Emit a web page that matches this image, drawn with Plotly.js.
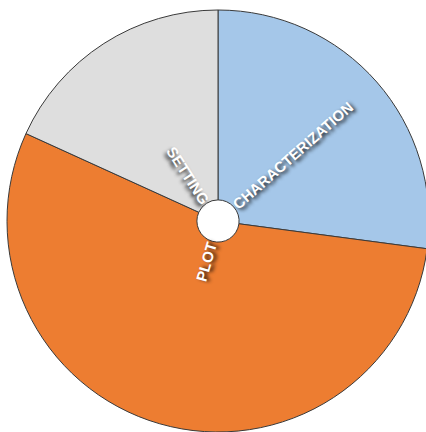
<!DOCTYPE html>
<html>
<head>
<meta charset="utf-8">
<script src="https://cdn.plot.ly/plotly-3.0.1.min.js"></script>
<style>
html, body { margin: 0; padding: 0; overflow: hidden; background: #fff; }
#chart { width: 429px; height: 432px; }
</style>
</head>
<body>
<div id="chart"></div>
<script>
const categories = ["CHARACTERIZATION", "PLOT", "SETTING"];
const values = [27.1, 54.7, 18.2];
const colors = ["#a5c7e9", "#ed7d31", "#dedede"];

const W = 429, H = 432;
const margin = { l: 7, r: 0, t: 10, b: 0 };
const plotW = W - margin.l - margin.r, plotH = H - margin.t - margin.b;
const holeFrac = 0.1;
const labelStart = 0.1;
const fontSize = 15;
const boxH = fontSize * 1.25;

const trace = {
  type: "pie",
  labels: categories,
  values: values,
  textinfo: "none",
  sort: false,
  direction: "clockwise",
  rotation: 0,
  hole: holeFrac,
  marker: { colors: colors, line: { color: "#3a3a3a", width: 1 } },
  hoverinfo: "none"
};

// radial labels anchored near the hole, placed at each slice's mid-angle
const total = values.reduce((a, b) => a + b, 0);
let cum = 0;
const annotations = categories.map((name, i) => {
  const mid = (cum + values[i] / 2) / total * 2 * Math.PI;
  cum += values[i];
  const s = Math.sin(mid), c = Math.cos(mid);
  const deg = mid * 180 / Math.PI;
  const angle = s >= 0 ? deg - 90 : deg - 270;
  const sx = s >= 0 ? 1 : -1, sy = c >= 0 ? 1 : -1;
  // shift from inner-edge midpoint to the rotated bounding-box corner
  const dx = -(boxH / 2) * Math.abs(c) * sx / plotW;
  const dy = -(boxH / 2) * Math.abs(s) * sy / plotH;
  return {
    xref: "paper", yref: "paper",
    x: 0.5 + 0.5 * labelStart * s + dx,
    y: 0.5 + 0.5 * labelStart * c + dy,
    xanchor: sx > 0 ? "left" : "right",
    yanchor: sy > 0 ? "bottom" : "top",
    text: name,
    textangle: angle,
    showarrow: false,
    borderpad: 0,
    font: {
      family: "Liberation Sans Narrow, Arial Narrow, sans-serif",
      size: fontSize,
      weight: "bold",
      color: "#ffffff",
      shadow: "1px 3px 4px rgba(0,0,0,0.9)"
    }
  };
});

const layout = {
  width: W,
  height: H,
  margin: margin,
  showlegend: false,
  paper_bgcolor: "#ffffff",
  annotations: annotations
};

Plotly.newPlot("chart", [trace], layout, { displayModeBar: false, staticPlot: true });
</script>
</body>
</html>
